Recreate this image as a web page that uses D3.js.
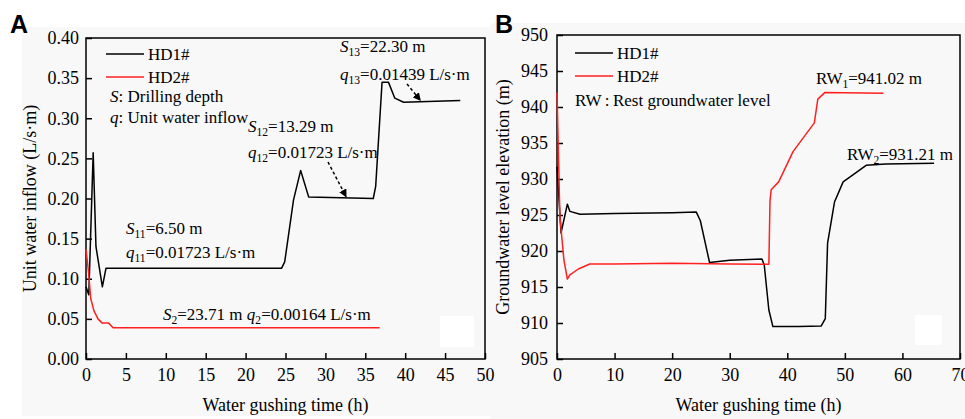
<!DOCTYPE html>
<html><head><meta charset="utf-8">
<script src="https://cdn.jsdelivr.net/npm/d3@7/dist/d3.min.js"></script>
<style>
html,body{margin:0;padding:0;background:#fff;}
svg{display:block;font-family:"Liberation Serif","Times New Roman",serif;}
svg text{font-family:"Liberation Serif","Times New Roman",serif !important;}
svg text.letter{font-family:"Liberation Sans",Arial,sans-serif !important;font-weight:bold;}
</style></head>
<body>
<svg id="c" width="965" height="419"></svg>
<script>
// ---------- DATA ----------
// Panel A: unit water inflow (L/s·m) vs time (h)
const hd1A_t = [0, 0.35, 0.9, 1.25, 2.05, 2.5, 24.5, 24.9, 26.0, 26.9, 27.9, 36.0, 36.3, 37.1, 37.9, 38.7, 39.8, 46.9];
const hd1A_q = [0.09, 0.08, 0.257, 0.14, 0.09, 0.113, 0.113, 0.121, 0.198, 0.235, 0.202, 0.200, 0.215, 0.345, 0.345, 0.325, 0.320, 0.322];
const hd2A_t = [0, 0.3, 0.6, 1.0, 1.5, 2.0, 2.8, 3.4, 36.8];
const hd2A_q = [0.137, 0.11, 0.075, 0.06, 0.05, 0.045, 0.045, 0.039, 0.039];
// Panel B: groundwater level elevation (m) vs time (h)
const hd1B_t = [0, 0.7, 1.8, 2.25, 4, 10, 20, 24.2, 24.9, 26.5, 30, 35.6, 36.0, 36.8, 37.5, 42, 45.9, 46.6, 47.0, 48.2, 49.7, 53.7, 57.1, 65.5];
const hd1B_e = [931.7, 922.5, 926.5, 925.5, 925.1, 925.2, 925.3, 925.4, 924.2, 918.4, 918.7, 918.9, 918.05, 911.8, 909.5, 909.5, 909.6, 910.6, 921.1, 926.8, 929.6, 931.9, 932.1, 932.2];
const hd2B_t = [0, 0.5, 1.2, 1.8, 2.25, 3.7, 5.7, 10, 20, 30, 36.8, 37.0, 37.2, 38.5, 41.0, 44.7, 45.3, 46.5, 56.7];
const hd2B_e = [942, 924.8, 918.75, 916.1, 916.7, 917.5, 918.2, 918.2, 918.3, 918.2, 918.15, 927, 928.5, 929.6, 933.8, 937.8, 941.1, 942.0, 941.9];
// Ticks
const xTicksA = [0, 5, 10, 15, 20, 25, 30, 35, 40, 45, 50];
const yTicksA = [0, 0.05, 0.10, 0.15, 0.20, 0.25, 0.30, 0.35, 0.40];
const xTicksB = [0, 10, 20, 30, 40, 50, 60, 70];
const yTicksB = [905, 910, 915, 920, 925, 930, 935, 940, 945, 950];
const seriesNames = ["HD1#", "HD2#"];
const seriesColors = ["#000000", "#ff2020"];
const xTitle = "Water gushing time (h)";
const yTitleA = "Unit water inflow (L/s\u00b7m)";
const yTitleB = "Groundwater level elevation (m)";

// ---------- DRAW ----------
const SERIF = '"Liberation Serif","Times New Roman",serif';
const svg = d3.select("#c");
const defs = svg.append("defs");
defs.append("marker").attr("id","arr").attr("viewBox","0 0 10 10").attr("refX",9).attr("refY",5)
  .attr("markerWidth",8).attr("markerHeight",8).attr("orient","auto-start-reverse").attr("markerUnits","userSpaceOnUse")
  .append("path").attr("d","M0,0 L10,5 L0,10 z").attr("fill","#000");

// light gray backgrounds
svg.append("rect").attr("x",22).attr("y",27).attr("width",468).attr("height",389).attr("fill","#f8f8f8");
svg.append("rect").attr("x",490).attr("y",23).attr("width",475).attr("height",396).attr("fill","#f8f8f8");

function rich(g, x, y, parts, size, anchor) {
  const t = g.append("text").attr("x", x).attr("y", y).attr("font-size", size).attr("fill","#000")
    .attr("text-anchor", anchor || "start");
  let shifted = false;
  parts.forEach(p => {
    const ts = t.append("tspan").text(p.t);
    if (p.i) ts.attr("font-style", "italic");
    if (p.sub) { ts.attr("font-size", size * 0.68).attr("dy", 4); shifted = true; }
    else if (shifted) { ts.attr("dy", -4); shifted = false; }
  });
  return t;
}

function panel(cfg) {
  const x = d3.scaleLinear().domain(cfg.xd).range([cfg.l, cfg.r]);
  const y = d3.scaleLinear().domain(cfg.yd).range([cfg.b, cfg.t]);
  const g = svg.append("g");
  // white patch
  g.append("rect").attr("x", cfg.patch[0]).attr("y", cfg.patch[1]).attr("width", cfg.patch[2]).attr("height", cfg.patch[3]).attr("fill", "#fff");
  // axes
  const ax = g.append("g").attr("transform", `translate(0,${cfg.b})`)
    .call(d3.axisBottom(x).tickValues(cfg.xt).tickSizeInner(-6).tickSizeOuter(0).tickPadding(9).tickFormat(d3.format("d")));
  const ay = g.append("g").attr("transform", `translate(${cfg.l},0)`)
    .call(d3.axisLeft(y).tickValues(cfg.yt).tickSizeInner(-6).tickSizeOuter(0).tickPadding(cfg.ypad).tickFormat(cfg.yf));
  [ax, ay].forEach(a => {
    a.attr("font-family", SERIF).attr("font-size", 18);
    a.select(".domain").remove();
    a.selectAll("line").attr("stroke", "#000").attr("stroke-width", 1.5);
    a.selectAll("text").attr("fill", "#000").attr("font-family", SERIF)
      .style("font-family", SERIF).style("font-size", "18px");
  });
  ax.selectAll("text").attr("dy", "0.71em");
  // frame
  g.append("rect").attr("x", cfg.l).attr("y", cfg.t).attr("width", cfg.r - cfg.l).attr("height", cfg.b - cfg.t)
    .attr("fill", "none").attr("stroke", "#000").attr("stroke-width", 1.5);
  // series
  const line = d3.line().x(d => x(d[0])).y(d => y(d[1]));
  cfg.series.forEach((s, i) => {
    const pts = s[0].map((v, k) => [v, s[1][k]]);
    g.append("path").datum(pts).attr("d", line).attr("fill", "none")
      .attr("stroke", seriesColors[i]).attr("stroke-width", 1.5).attr("stroke-linejoin", "round");
  });
  // titles
  g.append("text").attr("x", (cfg.l + cfg.r) / 2).attr("y", 411).attr("text-anchor", "middle")
    .attr("font-size", 18).text(xTitle);
  g.append("text").attr("transform", `translate(${cfg.ytx},${(cfg.t + cfg.b) / 2}) rotate(-90)`)
    .attr("text-anchor", "middle").attr("font-size", 18).text(cfg.ytitle);
  g.append("text").attr("class", "letter").attr("x", cfg.letterX).attr("y", 33).attr("font-size", 25).text(cfg.letter);
  // legend
  seriesNames.forEach((n, i) => {
    const ly = cfg.leg[1] + i * 23;
    g.append("line").attr("x1", cfg.leg[0]).attr("x2", cfg.leg[0] + 38).attr("y1", ly).attr("y2", ly)
      .attr("stroke", seriesColors[i]).attr("stroke-width", 1.5);
    g.append("text").attr("x", cfg.leg[0] + 42).attr("y", ly + 6).attr("font-size", 17).text(n);
  });
  return { g, x, y };
}

const A = panel({ l: 86, r: 485, t: 38, b: 359, xd: [0, 50], yd: [0, 0.40], xt: xTicksA, yt: yTicksA, ypad: 7,
  yf: d3.format(".2f"), ytitle: yTitleA, ytx: 36, letter: "A", letterX: 10, leg: [106, 54], patch: [440, 316, 34, 31],
  series: [[hd1A_t, hd1A_q], [hd2A_t, hd2A_q]] });
const B = panel({ l: 557, r: 960, t: 35, b: 359, xd: [0, 70], yd: [905, 950], xt: xTicksB, yt: yTicksB, ypad: 9,
  yf: d3.format("d"), ytitle: yTitleB, ytx: 509, letter: "B", letterX: 495, leg: [575, 53], patch: [915, 315, 27, 30],
  series: [[hd1B_t, hd1B_e], [hd2B_t, hd2B_e]] });

// Panel A notes
rich(A.g, 110, 102, [{t:"S", i:true}, {t:": Drilling depth"}], 17);
rich(A.g, 110, 123, [{t:"q", i:true}, {t:": Unit water inflow"}], 17);
rich(A.g, 126, 234, [{t:"S", i:true}, {t:"11", sub:true}, {t:"=6.50 m"}], 17);
rich(A.g, 126, 258, [{t:"q", i:true}, {t:"11", sub:true}, {t:"=0.01723 L/s\u00b7m"}], 17);
rich(A.g, 163, 320, [{t:"S", i:true}, {t:"2", sub:true}, {t:"=23.71 m "}, {t:"q", i:true}, {t:"2", sub:true}, {t:"=0.00164 L/s\u00b7m"}], 17);
rich(A.g, 248, 132, [{t:"S", i:true}, {t:"12", sub:true}, {t:"=13.29 m"}], 17);
rich(A.g, 248, 158, [{t:"q", i:true}, {t:"12", sub:true}, {t:"=0.01723 L/s\u00b7m"}], 17);
rich(A.g, 340, 52, [{t:"S", i:true}, {t:"13", sub:true}, {t:"=22.30 m"}], 17);
rich(A.g, 340, 80, [{t:"q", i:true}, {t:"13", sub:true}, {t:"=0.01439 L/s\u00b7m"}], 17);
A.g.append("line").attr("x1", 328).attr("y1", 162).attr("x2", A.x(32.6)).attr("y2", A.y(0.201) - 1)
  .attr("stroke", "#000").attr("stroke-width", 1.5).attr("stroke-dasharray", "3,2.5").attr("marker-end", "url(#arr)");
A.g.append("line").attr("x1", 407).attr("y1", 84).attr("x2", A.x(41.9)).attr("y2", A.y(0.321) - 1)
  .attr("stroke", "#000").attr("stroke-width", 1.5).attr("stroke-dasharray", "3,2.5").attr("marker-end", "url(#arr)");

// Panel B notes
rich(B.g, 575, 106, [{t:"RW\u2009:\u2009Rest groundwater level"}], 17);
rich(B.g, 816, 84, [{t:"RW"}, {t:"1", sub:true}, {t:"=941.02 m"}], 17);
rich(B.g, 847, 160, [{t:"RW"}, {t:"2", sub:true}, {t:"=931.21 m"}], 17);
</script>
</body></html>
